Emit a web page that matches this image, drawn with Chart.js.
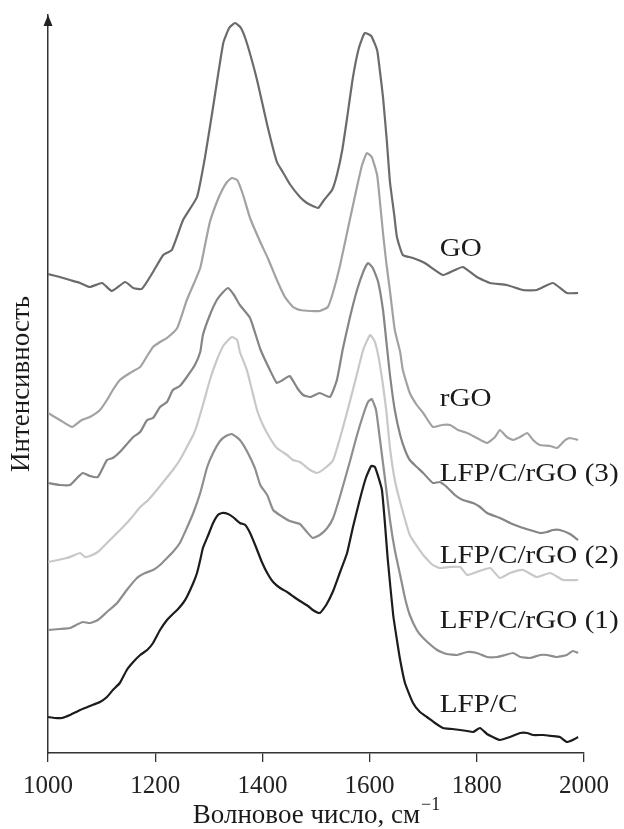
<!DOCTYPE html>
<html>
<head>
<meta charset="utf-8">
<script src="https://cdn.jsdelivr.net/npm/chart.js@4.4.1/dist/chart.umd.min.js"></script>
<style>
  html, body { margin: 0; padding: 0; background: #fff; }
  #wrap { width: 624px; height: 829px; }
</style>
</head>
<body>
<div id="wrap"><canvas id="raman"></canvas></div>
<script>
// Raman spectra, wavenumber (cm-1) vs intensity (arb. units, curves offset)
const go_x = [1000,1022,1041,1060,1078,1101,1119,1144,1159,1175,1196,1215,1231,1252,1278,1293,1308,1327,1338,1349,1360,1371,1390,1409,1427,1438,1451,1470,1483,1494,1504,1515,1530,1539,1549,1558,1569,1580,1591,1603,1614,1619,1625,1632,1638,1646,1651,1662,1681,1703,1737,1759,1774,1800,1825,1856,1886,1912,1942,1968,1989];
const go_y = [479,476,473,470,466,470,462,471,465,464,481,498,503,533,556,596,646,710,725,730,725,710,673,628,591,581,569,556,550,547,545,553,563,578,603,635,676,705,720,717,703,683,656,613,571,538,516,498,495,490,478,483,486,476,470,468,463,463,470,460,460];

const rgo_x = [1000,1022,1045,1063,1078,1097,1110,1121,1134,1153,1172,1185,1196,1209,1222,1241,1259,1271,1284,1293,1302,1315,1325,1334,1343,1353,1364,1377,1396,1410,1427,1442,1457,1470,1489,1507,1522,1532,1545,1563,1576,1586,1595,1604,1614,1619,1625,1631,1638,1647,1657,1662,1675,1688,1700,1718,1735,1750,1765,1782,1800,1819,1834,1843,1856,1868,1881,1894,1905,1918,1937,1950,1965,1974,1989];
const rgo_y = [340,333,326,333,336,343,353,363,373,380,386,397,406,411,415,425,453,468,485,508,531,551,563,571,575,573,558,535,511,495,473,456,446,443,442,442,446,461,488,533,565,588,600,596,578,553,520,491,462,423,401,383,360,348,340,326,328,328,323,320,315,310,316,323,316,313,316,320,313,308,307,305,313,315,313];

const lfp3_x = [1000,1022,1041,1056,1065,1078,1093,1110,1121,1134,1159,1172,1185,1196,1209,1222,1233,1246,1259,1274,1284,1289,1302,1315,1327,1336,1347,1358,1377,1396,1414,1427,1438,1451,1465,1476,1489,1507,1526,1539,1550,1563,1576,1588,1597,1606,1616,1625,1631,1638,1647,1657,1666,1675,1688,1700,1718,1731,1744,1759,1774,1793,1806,1819,1843,1862,1881,1899,1918,1931,1942,1955,1974,1989];
const lfp3_y = [270,268,268,276,280,277,276,293,295,301,316,321,333,335,346,351,363,367,376,388,401,418,438,453,461,465,458,448,435,404,383,370,373,377,365,358,356,360,356,373,404,435,462,481,490,485,471,443,413,378,343,318,303,293,286,280,270,271,266,258,253,250,246,240,235,230,226,223,220,221,223,223,219,213];

const lfp2_x = [1000,1019,1035,1050,1060,1069,1078,1093,1110,1125,1140,1157,1172,1187,1203,1218,1233,1246,1259,1271,1278,1289,1302,1315,1328,1343,1353,1358,1371,1390,1401,1414,1427,1446,1457,1470,1489,1502,1517,1532,1549,1563,1576,1588,1601,1610,1619,1631,1638,1647,1657,1675,1700,1718,1731,1750,1769,1782,1800,1825,1843,1862,1886,1912,1937,1961,1989];
const lfp2_y = [191,193,195,198,200,196,197,201,210,218,226,236,246,253,263,273,283,293,306,318,328,348,373,393,408,416,413,401,383,343,328,315,305,298,293,291,283,280,285,293,323,351,378,403,418,411,389,343,305,273,251,218,198,188,185,186,186,178,181,185,175,180,183,176,180,173,173];

const lfp1_x = [1000,1022,1041,1056,1065,1078,1093,1110,1129,1147,1166,1181,1196,1209,1222,1233,1246,1259,1271,1284,1297,1308,1321,1332,1343,1358,1371,1386,1396,1409,1420,1438,1451,1470,1483,1494,1507,1521,1532,1545,1563,1576,1588,1597,1604,1612,1619,1629,1638,1647,1657,1666,1675,1688,1700,1726,1744,1763,1782,1800,1819,1838,1853,1868,1881,1899,1918,1931,1950,1968,1979,1989];
const lfp1_y = [123,124,125,129,131,130,133,141,150,163,175,180,183,188,195,201,210,225,240,260,286,300,312,317,319,313,302,285,268,258,243,236,232,229,221,215,218,225,235,257,291,317,338,351,354,343,315,273,233,203,178,155,138,123,115,103,99,98,101,100,96,96,98,100,96,95,98,98,96,98,102,100];

const lfpc_x = [1000,1013,1026,1041,1060,1078,1097,1110,1121,1134,1147,1159,1172,1185,1196,1209,1222,1233,1241,1252,1259,1271,1278,1284,1289,1299,1308,1317,1325,1336,1345,1358,1368,1377,1388,1399,1409,1420,1433,1446,1459,1470,1485,1494,1507,1519,1532,1545,1558,1569,1582,1593,1603,1610,1623,1634,1644,1651,1657,1666,1681,1694,1707,1722,1737,1754,1769,1782,1793,1806,1819,1830,1843,1862,1881,1894,1905,1924,1940,1955,1968,1979,1989];
const lfpc_y = [36,35,35,38,43,47,51,56,63,70,83,91,98,103,110,123,133,139,143,150,156,170,180,193,205,218,230,238,240,239,236,230,228,220,206,191,180,171,165,161,156,152,147,143,140,148,162,181,200,226,254,275,287,286,263,193,138,113,93,70,50,41,36,30,25,24,23,22,21,25,19,16,13,16,20,20,18,18,17,16,11,13,16];

const seriesNames = ['GO', 'rGO', 'LFP/C/rGO (3)', 'LFP/C/rGO (2)', 'LFP/C/rGO (1)', 'LFP/C'];
const xTicks = [1000, 1200, 1400, 1600, 1800, 2000];

const xs = [go_x, rgo_x, lfp3_x, lfp2_x, lfp1_x, lfpc_x];
const ys = [go_y, rgo_y, lfp3_y, lfp2_y, lfp1_y, lfpc_y];
const colors = ['#6b6b6b', '#a2a2a2', '#858585', '#c8c8c8', '#8e8e8e', '#1c1c1c'];

// where the curve names sit (data coords)
const labelX = 1731;
const labelY = [504, 354, 279, 197, 132, 48];

const serif = "'Liberation Serif', 'Times New Roman', serif";
Chart.defaults.font.family = serif;

const extras = {
    id: 'extras',
    afterDraw(chart) {
        const ctx = chart.ctx;
        const a = chart.chartArea;
        const sx = chart.scales.x, sy = chart.scales.y;
        ctx.save();
        // arrow on y axis
        ctx.fillStyle = '#222';
        ctx.beginPath();
        ctx.moveTo(a.left, a.top);
        ctx.lineTo(a.left - 4.5, a.top + 11);
        ctx.lineTo(a.left + 4.5, a.top + 11);
        ctx.closePath();
        ctx.fill();

        // curve names
        ctx.fillStyle = '#1a1a1a';
        ctx.textBaseline = 'middle';
        ctx.textAlign = 'left';
        ctx.font = '26px ' + serif;
        seriesNames.forEach((n, i) => {
            const px = sx.getPixelForValue(labelX);
            const py = sy.getPixelForValue(labelY[i]);
            ctx.save();
            ctx.translate(px, py);
            ctx.scale(1.12, 1);
            ctx.fillText(n, 0, 0);
            ctx.restore();
        });

        // x axis title with superscript
        const main = 'Волновое число, см';
        const sup = '−1';
        ctx.font = '27px ' + serif;
        const w1 = ctx.measureText(main).width;
        ctx.font = '18px ' + serif;
        const w2 = ctx.measureText(sup).width;
        const cx = (a.left + a.right) / 2;
        const x0 = cx - (w1 + w2) / 2;
        ctx.textBaseline = 'alphabetic';
        ctx.font = '27px ' + serif;
        ctx.fillText(main, x0, 823);
        ctx.font = '18px ' + serif;
        ctx.fillText(sup, x0 + w1 + 1, 810);
        ctx.restore();
    }
};

new Chart(document.getElementById('raman'), {
    type: 'line',
    data: {
        datasets: seriesNames.map((n, i) => ({
            label: n,
            data: xs[i].map((x, j) => ({x: x, y: ys[i][j]})),
            borderColor: colors[i],
            borderWidth: 2.2,
            pointRadius: 0,
            tension: 0.15,
            fill: false
        }))
    },
    options: {
        responsive: true,
        maintainAspectRatio: false,
        animation: false,
        devicePixelRatio: 1,
        layout: { padding: { top: 15, right: 40, left: 0, bottom: 0 } },
        plugins: { legend: { display: false }, tooltip: { enabled: false } },
        scales: {
            x: {
                type: 'linear',
                min: 1000,
                max: 2000,
                afterBuildTicks: s => { s.ticks = xTicks.map(v => ({value: v})); },
                afterFit: s => { s.height = 76; },
                ticks: { color: '#222', font: { size: 25 }, padding: 9, maxRotation: 0, callback: v => String(v) },
                grid: { drawOnChartArea: false, drawTicks: true, tickLength: 9, color: '#333', lineWidth: 1.3 },
                border: { display: true, color: '#333', width: 1.5 }
            },
            y: {
                min: 0,
                max: 738,
                afterFit: s => { s.width = 48; },
                ticks: { display: false },
                grid: { display: false },
                border: { display: true, color: '#333', width: 1.5 },
                title: { display: true, text: 'Интенсивность', color: '#1a1a1a', font: { size: 27 }, padding: { top: 6, bottom: 0 } }
            }
        }
    },
    plugins: [extras]
});
</script>
</body>
</html>
